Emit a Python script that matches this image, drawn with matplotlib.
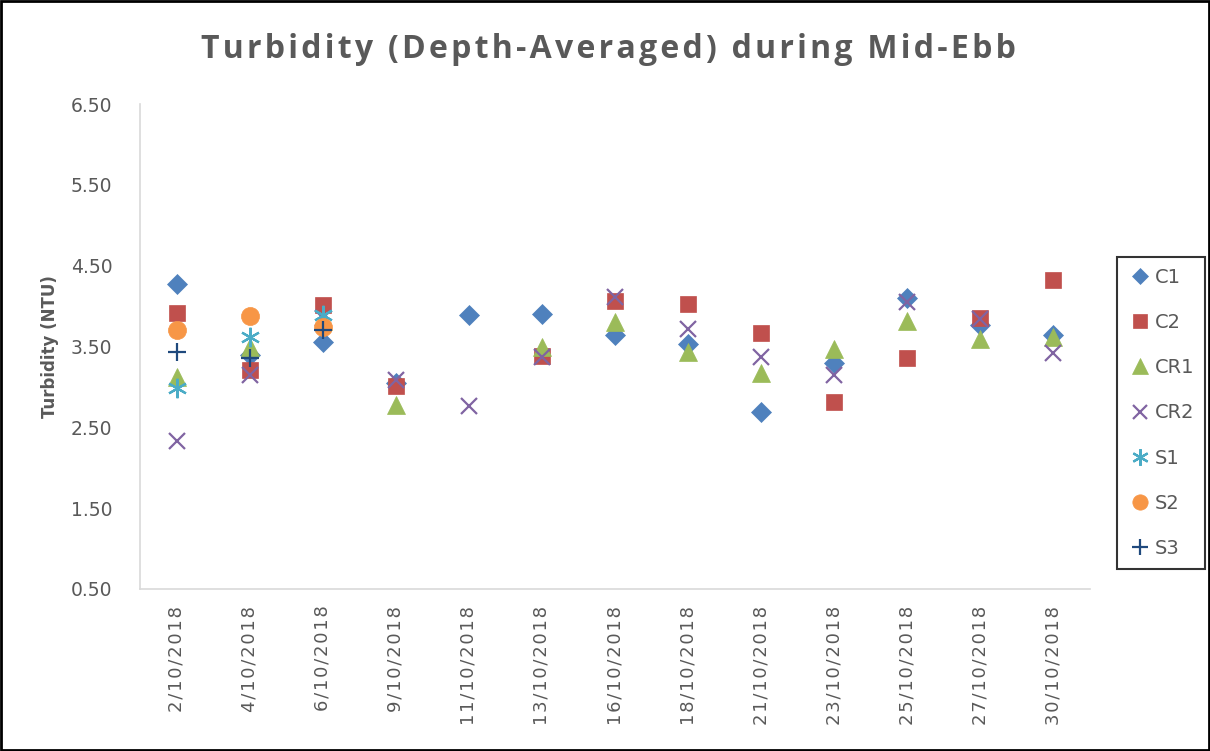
import numpy as np
import matplotlib.pyplot as plt
from matplotlib.patches import Rectangle

dates = ["2/10/2018", "4/10/2018", "6/10/2018", "9/10/2018", "11/10/2018",
         "13/10/2018", "16/10/2018", "18/10/2018", "21/10/2018", "23/10/2018",
         "25/10/2018", "27/10/2018", "30/10/2018"]

nan = np.nan
c1 = [4.27, 3.40, 3.56, 3.05, 3.89, 3.90, 3.64, 3.53, 2.69, 3.30, 4.10, 3.77, 3.64]
c2 = [3.92, 3.21, 4.01, 3.01, nan, 3.38, 4.06, 4.03, 3.67, 2.81, 3.36, 3.85, 4.32]
cr1 = [3.12, 3.50, 3.82, 2.78, nan, 3.50, 3.80, 3.43, 3.17, 3.47, 3.82, 3.59, 3.62]
cr2 = [2.33, 3.15, 3.85, 3.08, 2.76, 3.37, 4.11, 3.72, 3.37, 3.15, 4.05, 3.84, 3.42]
s1 = [2.99, 3.62, 3.89] + [nan] * 10
s2 = [3.71, 3.88, 3.74] + [nan] * 10
s3 = [3.43, 3.36, 3.70] + [nan] * 10

series = [
    ("C1", c1, "D", "#4F81BD", 10),
    ("C2", c2, "s", "#C0504D", 12),
    ("CR1", cr1, "^", "#9BBB59", 13),
    ("CR2", cr2, "x", "#8064A2", 12),
    ("S1", s1, (6, 2, 0), "#4BACC6", 14),
    ("S2", s2, "o", "#F79646", 13),
    ("S3", s3, "+", "#1F497D", 13),
]

HS = "\u200a"  # hair space, used as letter spacing


def spaced(s):
    return HS.join(s)


fig = plt.figure(figsize=(12.1, 7.51), dpi=100)
ax = fig.add_axes([140 / 1210, 1 - 589 / 751, 950 / 1210, 485 / 751])

x = np.arange(len(dates))
for name, vals, mk, col, ms in series:
    if mk in ("x", "+") or isinstance(mk, tuple):
        ax.plot(x, vals, linestyle="none", marker=mk, markersize=ms,
                markeredgecolor=col, markerfacecolor=col, markeredgewidth=1.6,
                label=name)
    else:
        ax.plot(x, vals, linestyle="none", marker=mk, markersize=ms,
                markeredgecolor=col, markerfacecolor=col, markeredgewidth=0.5,
                label=name)

yt = [0.5, 1.5, 2.5, 3.5, 4.5, 5.5, 6.5]
ax.set_xlim(-0.5, len(dates) - 0.5)
ax.set_ylim(0.5, 6.5)
ax.set_yticks(yt)
ax.set_yticklabels(["%.2f" % v for v in yt])
ax.set_xticks(x)
ax.set_xticklabels([spaced(d) for d in dates], rotation=90,
                   family=["DejaVu Sans"])
ax.tick_params(axis="both", length=0, colors="#595959")
ax.tick_params(axis="x", labelsize=13, pad=12)
ax.tick_params(axis="y", labelsize=13.5, pad=20)
for s in ["top", "right"]:
    ax.spines[s].set_visible(False)
for s in ["left", "bottom"]:
    ax.spines[s].set_color("#D9D9D9")
    ax.spines[s].set_linewidth(1.2)

ax.set_ylabel("Turbidity (NTU)", fontsize=12, fontweight="bold", color="#595959",
              labelpad=8)

fig.text(608 / 1210, 1 - 50 / 751, spaced("Turbidity (Depth-Averaged) during Mid-Ebb"),
         ha="center", va="center", fontsize=23, fontweight="bold",
         color="#595959", family=["Open Sans", "DejaVu Sans"])

leg = ax.legend(loc="upper left", bbox_to_anchor=(1117 / 1210, 1 - 257 / 751),
                bbox_transform=fig.transFigure, frameon=True, fancybox=False,
                fontsize=14, labelspacing=1.35, handletextpad=0.1,
                borderpad=0.55, borderaxespad=0, markerscale=0.85,
                handlelength=1.3)
leg.get_frame().set_edgecolor("black")
leg.get_frame().set_linewidth(1.5)
for t in leg.get_texts():
    t.set_color("#595959")

fig.patches.append(Rectangle((0.001, 0.001), 0.998, 0.998, transform=fig.transFigure,
                             fill=False, edgecolor="black", linewidth=2))

fig.savefig("out.png", dpi=100)
